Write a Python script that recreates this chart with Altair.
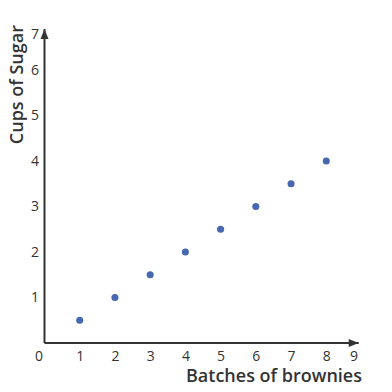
import altair as alt
import pandas as pd

batches = [1, 2, 3, 4, 5, 6, 7, 8]
sugar = [0.5, 1, 1.5, 2, 2.5, 3, 3.5, 4]
x_ticks = [0, 1, 2, 3, 4, 5, 6, 7, 8, 9]
y_ticks = [1, 2, 3, 4, 5, 6, 7]
x_axis_end = 8.92
y_axis_end = 6.9

pts = pd.DataFrame({"x": batches, "y": sugar})
xaxis_df = pd.DataFrame({"x": [0], "x2": [x_axis_end], "y": [0]})
yaxis_df = pd.DataFrame({"x": [0], "y": [0], "y2": [y_axis_end]})
xarrow_df = pd.DataFrame({"x": [x_axis_end], "y": [0]})
yarrow_df = pd.DataFrame({"x": [0], "y": [y_axis_end]})

FONT = "Open Sans"
AX = "#333333"

xs = alt.Scale(domain=[0, 9], nice=False, zero=False)
ys = alt.Scale(domain=[0, 7], nice=False, zero=False)

x_axis = alt.Axis(
    values=x_ticks, grid=False, ticks=False, domain=False, tickSize=0,
    labelFont=FONT, labelFontSize=14, labelColor=AX, labelPadding=6,
    labelOverlap=False, labelBound=False,
    labelOffset={"condition": [{"test": "datum.value == 9", "value": -8},
                               {"test": "datum.value == 0", "value": -6}],
                 "value": 0},
    labelFlush=False,
    title="Batches of brownies", titleFont=FONT, titleFontSize=18,
    titleFontWeight=600, titleColor=AX, titleAnchor="end", titlePadding=4,
)
y_axis = alt.Axis(
    values=y_ticks, grid=False, ticks=False, domain=False, tickSize=0,
    labelFont=FONT, labelFontSize=14, labelColor=AX, labelPadding=6,
    labelOverlap=False, labelBound=False,
    labelOffset={"condition": {"test": "datum.value == 7", "value": 10}, "value": 0},
    labelFlush=False,
    title="Cups of Sugar", titleFont=FONT, titleFontSize=18,
    titleFontWeight=600, titleColor=AX, titleAnchor="end", titlePadding=4,
)

points = alt.Chart(pts).mark_circle(size=50, color="#4767ae", opacity=1).encode(
    x=alt.X("x:Q", scale=xs, axis=x_axis),
    y=alt.Y("y:Q", scale=ys, axis=y_axis),
)

xline = alt.Chart(xaxis_df).mark_rule(color=AX, strokeWidth=2).encode(
    x=alt.X("x:Q", scale=xs, axis=x_axis), x2="x2:Q", y=alt.Y("y:Q", scale=ys, axis=y_axis))
yline = alt.Chart(yaxis_df).mark_rule(color=AX, strokeWidth=2).encode(
    x=alt.X("x:Q", scale=xs, axis=x_axis), y=alt.Y("y:Q", scale=ys, axis=y_axis), y2="y2:Q")
xarrow = alt.Chart(xarrow_df).mark_point(
    shape="M-1,-0.4L0,0L-1,0.4Z", size=400, filled=True, color=AX, opacity=1
).encode(x=alt.X("x:Q", scale=xs, axis=x_axis), y=alt.Y("y:Q", scale=ys, axis=y_axis))
yarrow = alt.Chart(yarrow_df).mark_point(
    shape="M-0.4,1L0,0L0.4,1Z", size=400, filled=True, color=AX, opacity=1
).encode(x=alt.X("x:Q", scale=xs, axis=x_axis), y=alt.Y("y:Q", scale=ys, axis=y_axis))

chart = alt.layer(points, xline, yline, xarrow, yarrow).properties(
    width=317, height=318.5,
    autosize=alt.AutoSizeParams(type="none"),
    padding={"left": 36.5, "top": 16.5, "right": 22, "bottom": 41},
    background="white",
).configure_view(stroke=None).configure_axis(labelOverlap=False)

chart.save("out.html", embed_options={"renderer": "svg", "actions": False})
